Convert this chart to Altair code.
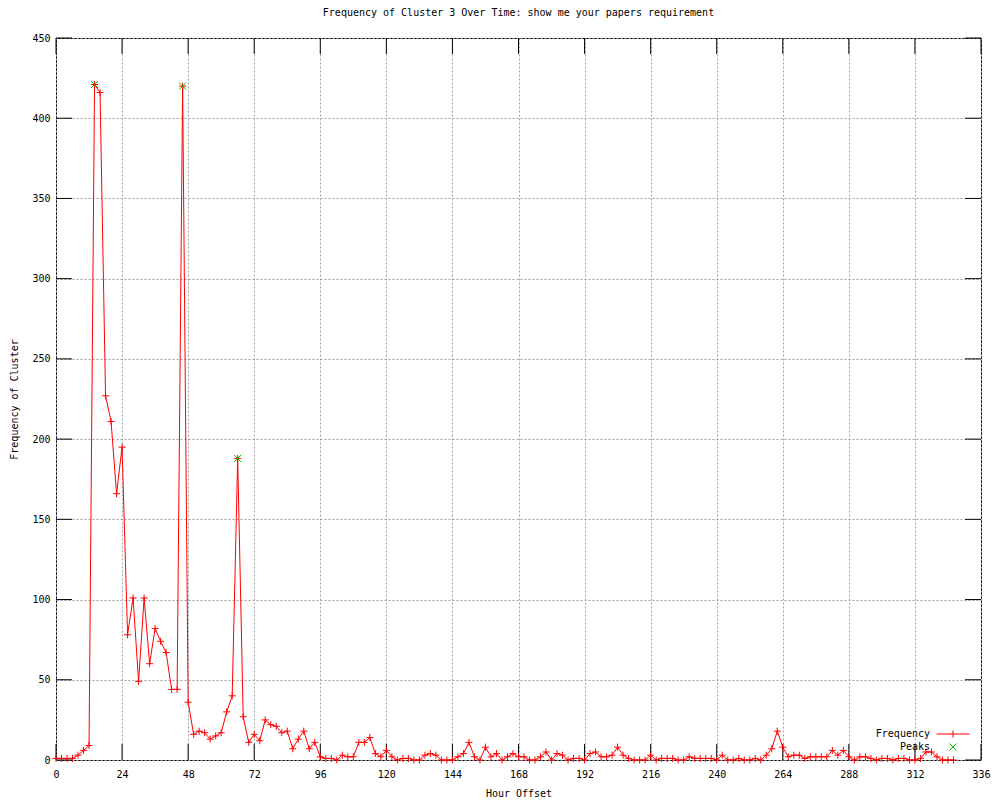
import altair as alt
import pandas as pd

title_text = "Frequency of Cluster 3 Over Time: show me your papers requirement"
x_title = "Hour Offset"
y_title = "Frequency of Cluster"
series_line = "Frequency"
series_peaks = "Peaks"

freq = [
    1, 1, 1, 1, 3, 6, 9,
    421, 416, 227, 211, 166, 195, 78, 101, 49, 101, 60, 82, 74, 67, 44, 44,
    420, 36, 16, 18, 17, 13, 15, 17, 30, 40,
    188, 27, 11, 16, 12, 25, 22, 21, 17, 18, 7, 13, 18, 7, 11,
    2, 1, 1, 0, 3, 2, 2, 11, 11, 14, 4, 2, 6, 2, 0, 1,
    1, 0, 0, 3, 4, 3, 0, 0, 0, 2, 4, 11, 2, 0, 8, 2,
    4, 0, 2, 4, 2, 2, 0, 0, 2, 5, 0, 4, 3, 0, 1, 1,
    0, 4, 5, 2, 2, 3, 8, 3, 1, 0, 0, 0, 3, 0, 1, 1,
    1, 0, 0, 2, 1, 1, 1, 1, 0, 3, 0, 0, 1, 0, 0, 1,
    0, 3, 7, 18, 8, 2, 3, 3, 1, 2, 2, 2, 2, 6, 3, 6,
    2, 0, 2, 2, 1, 0, 1, 1, 0, 1, 1, 0, 0, 1, 5, 5,
    2, 0, 0, 0,
]
hours = list(range(0, 2 * len(freq), 2))

peak_hours = [14, 46, 66]
peak_values = [421, 420, 188]

x_ticks = [0, 24, 48, 72, 96, 120, 144, 168, 192, 216, 240, 264, 288, 312, 336]
y_ticks = [0, 50, 100, 150, 200, 250, 300, 350, 400, 450]

W, H = 925, 722
TICK = 16
FONT = "DejaVu Sans Mono"
RED = "#ff0000"
GREEN = "#00c000"
PLUS = "M-1,0L1,0M0,-1L0,1"
CROSS = "M-1,-1L1,1M-1,1L1,-1"
# legend glyphs drawn to the right of the (right-aligned) label
LEGEND_LINE = "M3.3,0L12.7,0M8,-1L8,1"
LEGEND_CROSS = "M7,-1L9,1M7,1L9,-1"

df = pd.DataFrame({"hour": hours, "freq": freq, "s1": series_line})
peaks = pd.DataFrame({"hour": peak_hours, "freq": peak_values, "s2": series_peaks})
xt = pd.DataFrame({"hour": x_ticks})
yt = pd.DataFrame({"freq": y_ticks})

xscale = alt.Scale(domain=[0, 336], nice=False, zero=False)
yscale = alt.Scale(domain=[0, 450], nice=False)

x_axis = alt.Axis(values=x_ticks, title=x_title, grid=True, gridDash=[2, 2],
                  gridColor="#a0a0a0", domain=False, ticks=False, tickSize=0,
                  labelPadding=9, titlePadding=9, labelFlush=False)
y_axis = alt.Axis(values=y_ticks, title=y_title, grid=True, gridDash=[2, 2],
                  gridColor="#a0a0a0", domain=False, ticks=False, tickSize=0,
                  labelPadding=6, titlePadding=12, labelFlush=False)

X = alt.X("hour:Q", scale=xscale, axis=x_axis)
Y = alt.Y("freq:Q", scale=yscale, axis=y_axis)

legend_common = dict(title=None, orient="none", legendX=864, symbolSize=49,
                     symbolStrokeWidth=1, labelAlign="right",
                     labelOffset=0, labelFont=FONT, labelFontSize=10,
                     labelColor="black", padding=0)

line = alt.Chart(df).mark_line(strokeWidth=1).encode(
    x=X, y=Y,
    stroke=alt.Stroke("s1:N", scale=alt.Scale(domain=[series_line], range=[RED]),
                      legend=alt.Legend(legendY=691, symbolType=LEGEND_LINE,
                                        symbolStrokeColor=RED, **legend_common)),
)

pts = alt.Chart(df).mark_point(shape=PLUS, size=49, filled=False, strokeWidth=1,
                               color=RED, opacity=1).encode(x=X, y=Y)

pk = alt.Chart(peaks).mark_point(shape=CROSS, size=49, filled=False, strokeWidth=1,
                                 opacity=1).encode(
    x=X, y=Y,
    color=alt.Color("s2:N", scale=alt.Scale(domain=[series_peaks], range=[GREEN]),
                    legend=alt.Legend(legendY=704, symbolType=LEGEND_CROSS,
                                      symbolStrokeColor=GREEN,
                                      symbolFillColor="transparent", **legend_common)),
)

tick_bottom = alt.Chart(xt).mark_rule(color="black", strokeWidth=1).encode(
    x=X, y=alt.value(H), y2=alt.value(H - TICK))
tick_top = alt.Chart(xt).mark_rule(color="black", strokeWidth=1).encode(
    x=X, y=alt.value(0), y2=alt.value(TICK))
tick_left = alt.Chart(yt).mark_rule(color="black", strokeWidth=1).encode(
    y=Y, x=alt.value(0), x2=alt.value(TICK))
tick_right = alt.Chart(yt).mark_rule(color="black", strokeWidth=1).encode(
    y=Y, x=alt.value(W - TICK), x2=alt.value(W))

chart = alt.layer(line, tick_bottom, tick_top, tick_left, tick_right, pts, pk).properties(
    width=W, height=H,
    title=alt.TitleParams(text=title_text, font=FONT, fontSize=10, fontWeight="normal",
                          color="black", offset=15, anchor="middle", frame="group"),
    padding={"left": 48, "top": 30, "right": 10, "bottom": 40},
    autosize=alt.AutoSizeParams(type="none"),
).configure_view(stroke="black", strokeWidth=1).configure_axis(
    labelFont=FONT, labelFontSize=10, labelColor="black",
    titleFont=FONT, titleFontSize=10, titleFontWeight="normal", titleColor="black",
)

chart.save("out.html", embed_options={"renderer": "svg", "actions": False})
